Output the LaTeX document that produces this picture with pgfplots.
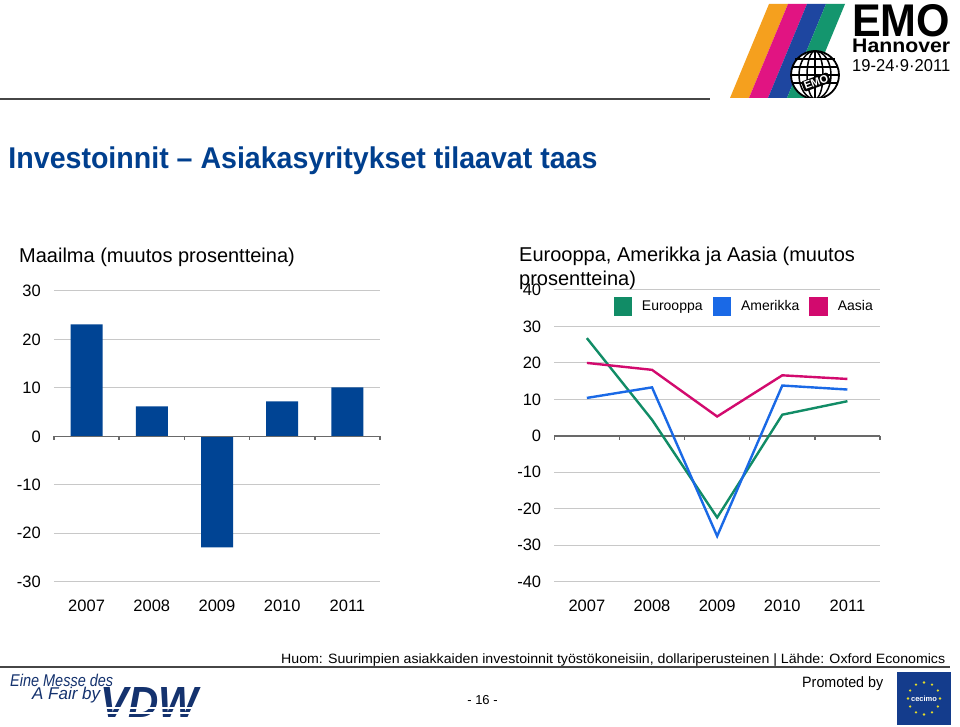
\documentclass[border=0pt]{standalone}
\usepackage{fontspec}
\setmainfont{Liberation Sans}
\usepackage{graphicx}
\usepackage{pgfplots}
\pgfplotsset{compat=1.18}

\definecolor{barblue}{RGB}{0,68,148}
\definecolor{titleblue}{RGB}{0,63,142}
\definecolor{eurogreen}{RGB}{17,140,102}
\definecolor{amerblue}{RGB}{26,105,230}
\definecolor{asiamag}{RGB}{210,10,110}
\definecolor{gridgray}{RGB}{200,200,200}
\definecolor{zerogray}{RGB}{105,105,105}
\definecolor{rulegray}{RGB}{70,70,70}
\definecolor{emoorange}{RGB}{245,160,30}
\definecolor{emomag}{RGB}{225,20,130}
\definecolor{emoblue}{RGB}{30,70,160}
\definecolor{emogreen}{RGB}{20,150,110}
\definecolor{vdwblue}{RGB}{20,50,110}
\definecolor{cecblue}{RGB}{20,60,140}
\definecolor{staryellow}{RGB}{230,220,40}

\newcommand\fs[1]{\fontsize{#1}{#1}\selectfont}

\tikzset{zeroline/.style={zerogray, line width=1.5pt}}
\pgfplotsset{
  slide axis/.style={
    scale only axis, anchor=south west,
    xmin=-0.5, xmax=4.5,
    xtick={0,...,4}, xticklabels={2007,2008,2009,2010,2011},
    axis line style={draw=none}, major tick length=0pt,
    ymajorgrids, grid style={gridgray, line width=1pt},
    /pgf/number format/assume math mode=true,
    tick label style={font=\fs{16.5}, inner sep=0pt},
    yticklabel style={anchor=east, xshift=-13pt},
    xticklabel style={anchor=north, yshift=-18pt},
    clip=false,
  },
}

\begin{document}
\begin{tikzpicture}[x=1pt,y=1pt]
\path[use as bounding box, fill=white] (0,0) rectangle (960,727);

% Maailma
\begin{axis}[slide axis,
  at={(54pt,145.3pt)}, width=326pt, height=290.7pt,
  ymin=-30, ymax=30, ytick={-30,-20,...,30},
]
\addplot[ybar, bar width=32pt, fill=barblue, draw=none]
  coordinates {(0,23.1) (1,6.2) (2,-22.9) (3,7.2) (4,10.1)};
\draw[zeroline] (axis cs:-0.5,0) -- (axis cs:4.5,0);
\pgfplotsinvokeforeach{-0.5,0.5,1.5,2.5,3.5,4.5}{
  \draw[zeroline] (axis cs:#1,0) -- ++(0pt,-4pt);
}
\end{axis}

% Eurooppa, Amerikka, Aasia
\begin{axis}[slide axis,
  at={(554.3pt,145.3pt)}, width=325.7pt, height=291.7pt,
  ymin=-40, ymax=40, ytick={-40,-30,...,40},
  legend columns=3,
  legend image code/.code={\fill[#1] (0pt,-8pt) rectangle (16pt,8pt);},
  legend style={at={(1,0.944)}, anchor=east, xshift=-4pt,
    draw=none, fill=none, font=\fs{14},
    nodes={inner sep=0pt},
    /tikz/every odd column/.append style={column sep=10pt},
    /tikz/every even column/.append style={column sep=10pt}},
]
\draw[zeroline] (axis cs:-0.5,0) -- (axis cs:4.5,0);
\pgfplotsinvokeforeach{-0.5,0.5,1.5,2.5,3.5,4.5}{
  \draw[zeroline] (axis cs:#1,0) -- ++(0pt,-4pt);
}
\addplot[color=eurogreen, line width=2.4pt]
  coordinates {(0,26.8) (1,4.4) (2,-22.4) (3,5.8) (4,9.5)};
\addlegendentry{Eurooppa}
\addplot[color=amerblue, line width=2.4pt]
  coordinates {(0,10.4) (1,13.3) (2,-27.5) (3,13.8) (4,12.7)};
\addlegendentry{Amerikka}
\addplot[color=asiamag, line width=2.4pt]
  coordinates {(0,20.0) (1,18.1) (2,5.3) (3,16.6) (4,15.6)};
\addlegendentry{Aasia}
\end{axis}

% chart titles
\node[anchor=base west, inner sep=0pt, font=\fs{20}] at (19,464) {Maailma (muutos prosentteina)};
\node[anchor=base west, inner sep=0pt, font=\fs{20}] at (519,465) {Eurooppa, Amerikka ja Aasia (muutos};
\node[anchor=base west, inner sep=0pt, font=\fs{20}] at (519,441) {prosentteina)};

% slide title and rules
\node[anchor=base west, inner sep=0pt, text=titleblue] at (8.3,558.7)
  {\resizebox{589pt}{\height}{\fs{30}\bfseries Investoinnit – Asiakasyritykset tilaavat taas}};
\draw[rulegray, line width=2pt] (0,628) -- (710,628);
\draw[rulegray, line width=2pt] (0,59.5) -- (950,59.5);

% footnote
\node[anchor=base west, inner sep=0pt] at (281,63.7)
  {\resizebox{664pt}{\height}{\fs{13.5}Huom: Suurimpien asiakkaiden investoinnit työstökoneisiin, dollariperusteinen | Lähde: Oxford Economics}};

% EMO logo
\fill[emoorange] (730,629) -- (769,723) -- (788,723) -- (749,629) -- cycle;
\fill[emomag]    (749,629) -- (788,723) -- (807,723) -- (768,629) -- cycle;
\fill[emoblue]   (768,629) -- (807,723) -- (826,723) -- (787,629) -- cycle;
\fill[emogreen]  (787,629) -- (826,723) -- (845,723) -- (806,629) -- cycle;
\begin{scope}
\clip (780,629) rectangle (850,690);
\filldraw[fill=white, draw=black, line width=1.8pt] (815,652) circle (24);
\draw[black, line width=1.5pt] (815,652) ellipse (8 and 24);
\draw[black, line width=1.5pt] (815,652) ellipse (16 and 24);
\draw[black, line width=1.5pt] (815,628) -- (815,676);
\draw[black, line width=1.5pt] (792,660) -- (838,660) (795,668) -- (835,668) (791,652) -- (839,652) (793,644) -- (837,644);
\end{scope}
\node[fill=black, text=white, font=\fs{11}\bfseries, rotate=20, inner sep=1.5pt, rounded corners=1.5pt] at (816,645) {EMO};
\node[anchor=base west, inner sep=0pt] at (852,690) {\resizebox{98pt}{32pt}{\bfseries EMO}};
\node[anchor=base west, inner sep=0pt] at (852,674) {\resizebox{98pt}{13.5pt}{\bfseries Hannover}};
\node[anchor=base west, inner sep=0pt] at (852,655) {\resizebox{98pt}{12pt}{19-24·9·2011}};

% VDW logo
\node[anchor=base west, inner sep=0pt, text=vdwblue] at (10,40) {\resizebox{103pt}{\height}{\fs{17}\itshape Eine Messe des}};
\node[anchor=base west, inner sep=0pt, text=vdwblue] at (32,27) {\resizebox{68pt}{\height}{\fs{17}\itshape A Fair by}};
\node[anchor=base west, inner sep=0pt, text=vdwblue] at (100,9) {\resizebox{98pt}{30pt}{\bfseries\itshape VDW}};
\draw[white, line width=1.2pt] (98,14) -- (202,14) (98,19) -- (202,19);

% page number and cecimo
\node[anchor=base, inner sep=0pt, font=\fs{13}] at (482.5,22) {- 16 -};
\node[anchor=base west, inner sep=0pt] at (802,39) {\resizebox{81pt}{\height}{\fs{15}Promoted by}};
\fill[cecblue] (897,2) rectangle (951,55);
\foreach \a in {0,30,...,330}
  \fill[staryellow] (924,28.5) ++(\a:16) circle (1.3pt);
\node[text=white, font=\fs{7.5}\bfseries, inner sep=0pt] at (924,28.5) {cecimo};
\end{tikzpicture}
\end{document}
